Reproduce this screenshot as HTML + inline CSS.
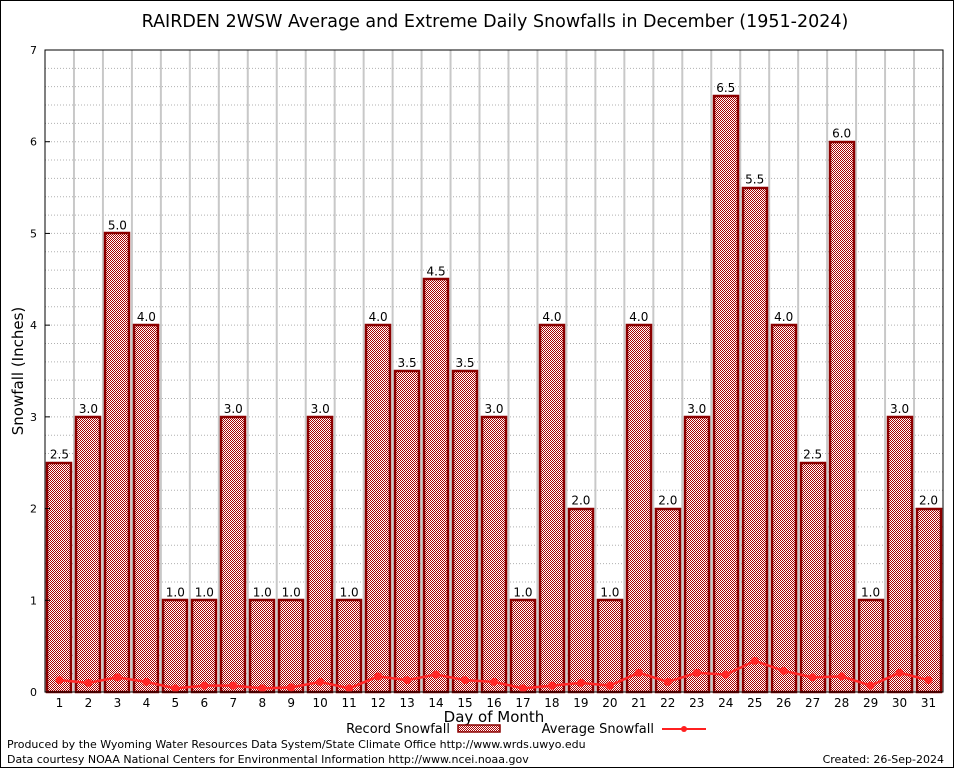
<!DOCTYPE html>
<html><head><meta charset="utf-8"><style>
body{margin:0;background:#fff;}
svg text{font-family:"DejaVu Sans","Liberation Sans",sans-serif;}
</style></head><body>
<svg id="chart" width="954" height="768" xmlns="http://www.w3.org/2000/svg">
<defs>
<pattern id="chk" x="0" y="0" width="2" height="2" patternUnits="userSpaceOnUse">
<rect width="2" height="2" fill="#fff" shape-rendering="crispEdges"/>
<rect x="0" y="0" width="1" height="1" fill="#a80000" shape-rendering="crispEdges"/>
<rect x="1" y="1" width="1" height="1" fill="#a80000" shape-rendering="crispEdges"/>
</pattern>
</defs>
<rect x="0.5" y="0.5" width="953" height="767" fill="#fff" stroke="#000"/>
<text x="495" y="27" font-size="17.5" text-anchor="middle">RAIRDEN 2WSW Average and Extreme Daily Snowfalls in December (1951-2024)</text>
<g id="grid"></g>
<g id="bars"></g>
<g id="avg"></g>
<rect x="45" y="50" width="898" height="642" fill="none" stroke="#000"/>
<g id="axes"></g>
<text transform="translate(23,371) rotate(-90)" font-size="15" text-anchor="middle">Snowfall (Inches)</text>
<text x="494" y="722" font-size="15" text-anchor="middle">Day of Month</text>
<g>
<text x="450" y="733" font-size="13" text-anchor="end">Record Snowfall</text>
<rect x="458" y="725" width="42" height="7" fill="url(#chk)" stroke="#8b0000" stroke-width="1.5"/>
<text x="654" y="733" font-size="13" text-anchor="end">Average Snowfall</text>
<line x1="662" y1="729" x2="706" y2="729" stroke="#ff2020" stroke-width="2"/>
<circle cx="684" cy="729" r="3" fill="#ff2020"/>
</g>
<text x="7" y="748" font-size="11">Produced by the Wyoming Water Resources Data System/State Climate Office http://www.wrds.uwyo.edu</text>
<text x="7" y="763" font-size="11">Data courtesy NOAA National Centers for Environmental Information http://www.ncei.noaa.gov</text>
<text x="944" y="763" font-size="11" text-anchor="end">Created: 26-Sep-2024</text>
</svg>
<script>
const days=[1,2,3,4,5,6,7,8,9,10,11,12,13,14,15,16,17,18,19,20,21,22,23,24,25,26,27,28,29,30,31];
const recordSnow=[2.5,3.0,5.0,4.0,1.0,1.0,3.0,1.0,1.0,3.0,1.0,4.0,3.5,4.5,3.5,3.0,1.0,4.0,2.0,1.0,4.0,2.0,3.0,6.5,5.5,4.0,2.5,6.0,1.0,3.0,2.0];
const avgSnow=[0.13,0.10,0.16,0.11,0.04,0.07,0.07,0.04,0.05,0.11,0.04,0.17,0.13,0.19,0.13,0.11,0.04,0.07,0.10,0.07,0.21,0.11,0.21,0.19,0.34,0.23,0.16,0.17,0.07,0.21,0.13];
const yTicks=[0,1,2,3,4,5,6,7];
const NS="http://www.w3.org/2000/svg";
const L=45,R=943,T=50,B=692,YMAX=7;
const slot=(R-L)/days.length;
const xS=d=>L+(d-0.5)*slot;
const yS=v=>B-(v/YMAX)*(B-T);
function mk(tag,attrs,parent){const e=document.createElementNS(NS,tag);for(const k in attrs)e.setAttribute(k,attrs[k]);parent.appendChild(e);return e;}
const grid=document.getElementById('grid'),bars=document.getElementById('bars'),avg=document.getElementById('avg'),axes=document.getElementById('axes');
for(let v=0.2;v<YMAX;v+=0.2){const g=mk('line',{x1:L,x2:R,y1:yS(v),y2:yS(v),stroke:'#b0b0b0','stroke-dasharray':'1,2'},grid);

}
days.forEach(d=>{const x=xS(d)+slot/2;if(d<days.length){const g=mk('line',{x1:x,x2:x,y1:T,y2:B,stroke:'#c8c8c8','stroke-width':2},grid);

}});
days.forEach((d,i)=>{const v=recordSnow[i],w=24,x=Math.round(xS(d)-w/2);
const r=mk('rect',{x:x,y:Math.round(yS(v)),width:w,height:B-Math.round(yS(v)),fill:'url(#chk)',stroke:'#8b0000','stroke-width':2.5},bars);


const t=mk('text',{x:xS(d),y:yS(v)-4,'font-size':12,'text-anchor':'middle'},bars);t.textContent=v.toFixed(1);

});
const pl=mk('polyline',{points:days.map((d,i)=>xS(d)+','+yS(avgSnow[i])).join(' '),fill:'none',stroke:'#ff2828','stroke-width':2.5},avg);


days.forEach((d,i)=>{const c=mk('circle',{cx:xS(d),cy:yS(avgSnow[i]),r:4,fill:'#ff2828'},avg);

});
yTicks.forEach(v=>{const t=mk('text',{x:L-8,y:yS(v)+4,'font-size':11,'text-anchor':'end','font-family':'Liberation Serif, serif'},axes);t.textContent=v;


const tk=mk('line',{x1:L,x2:L+5,y1:yS(v),y2:yS(v),stroke:'#000'},axes);

});
days.forEach(d=>{const t=mk('text',{x:xS(d),y:B+15,'font-size':12,'text-anchor':'middle','font-family':'Liberation Serif, serif'},axes);t.textContent=d;

});
</script>
</body></html>
